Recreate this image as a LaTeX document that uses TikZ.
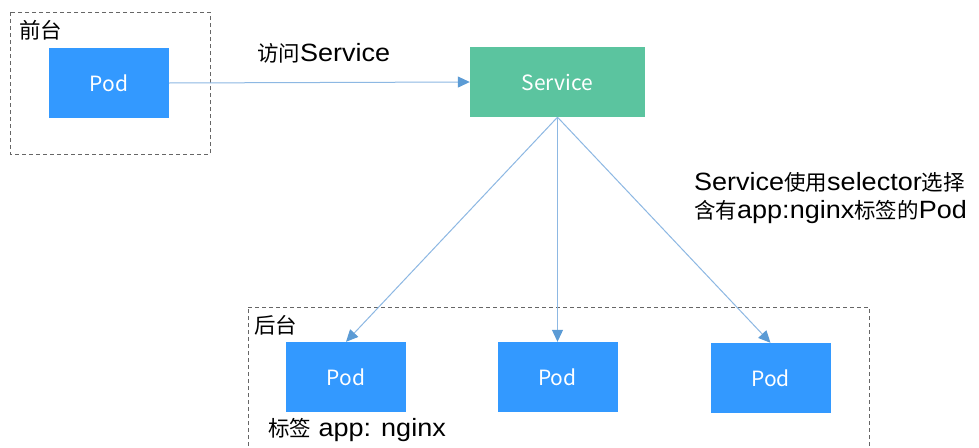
\documentclass[tikz,border=0pt]{standalone}
\usepackage{fontspec}
\setmainfont{Noto Sans CJK SC}
\newfontfamily\latf[FakeStretch=1.08]{Liberation Sans}
\newfontfamily\cjkf{Noto Sans CJK SC}
\newcommand{\La}[1]{{\latf\fontsize{25}{28}\selectfont #1}}
\newcommand{\Ch}[1]{{\cjkf\fontsize{21.5}{28}\selectfont #1}}
\usetikzlibrary{arrows.meta}
\definecolor{podc}{HTML}{3399FF}
\definecolor{svcc}{HTML}{5BC49F}
\definecolor{linec}{HTML}{8DB8E3}
\definecolor{headc}{HTML}{5B9BD5}
\definecolor{dashc}{HTML}{666666}
\begin{document}
\begin{tikzpicture}[x=1pt,y=-1pt,
  pod/.style={fill=podc,draw=none,text=white,minimum width=120pt,minimum height=70pt,inner sep=0pt,font=\fontsize{21}{24}\selectfont},
  svc/.style={fill=svcc,draw=none,text=white,minimum width=175pt,minimum height=70pt,inner sep=0pt,font=\fontsize{21}{24}\selectfont},
  grp/.style={draw=dashc,line width=1pt,dash pattern=on 4pt off 3pt},
  conn/.style={draw=linec,line width=1pt,-{Triangle[length=12pt,width=11pt,fill=headc,color=headc]}},
  lbl/.style={text=black,inner sep=0pt,font=\fontsize{21.5}{28}\selectfont}]
\useasboundingbox (0,0) rectangle (979,447);
\fill[white] (0,0) rectangle (979,447);
% groups
\draw[grp] (10,12) rectangle (210,154);
\draw[grp] (248,307) -- (869,307) -- (869,460) (248,460) -- (248,307);
\node[lbl,anchor=north west] (fl) at (19,20) {\Ch{前台}};
\node[lbl,anchor=north west] (bl) at (254,315) {\Ch{后台}};
% nodes
\node[pod] (p0) at (109,83) {Pod};
\node[svc] (svc) at (557.5,82) {Service};
\node[pod] (p1) at (346,377) {Pod};
\node[pod] (p2) at (557.5,377) {Pod};
\node[pod] (p3) at (770.5,378) {Pod};
% connectors
\draw[conn] (p0.east) -- (svc.west);
\draw[conn] (svc.south) -- (p1.north);
\draw[conn] (svc.south) -- (p2.north);
\draw[conn] (svc.south) -- (p3.north);
% labels
\node[lbl,anchor=west] (acc) at (257,53) {\Ch{访问}\La{Service}};
\node[lbl,anchor=west,align=left] (sel) at (694,198) {\Ch{\La{Service}使用\La{selector}选择}\\\Ch{含有\La{app:nginx}标签的\La{Pod}}};
\node[lbl,anchor=west] (tag) at (268,430) {\Ch{标签}\La{ app: nginx}};
\end{tikzpicture}
\end{document}
